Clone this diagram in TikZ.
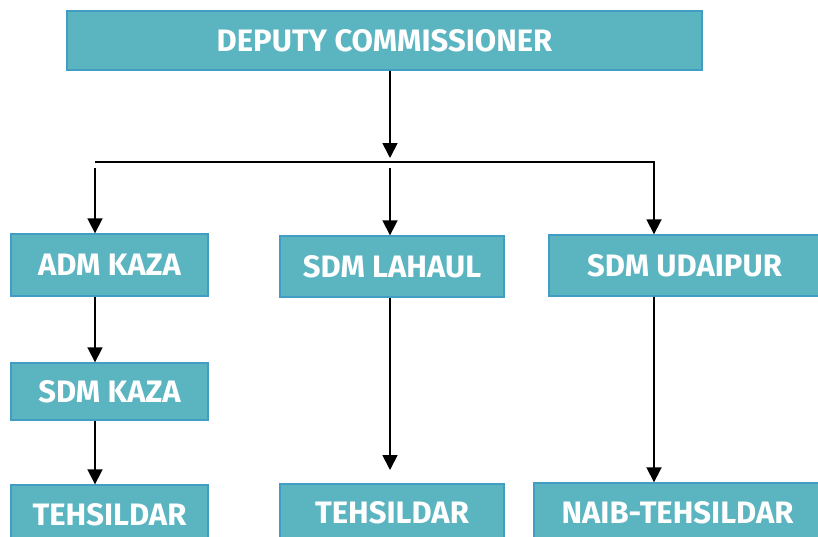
\documentclass[tikz,border=0pt]{standalone}
\usepackage{fontspec}
\setmainfont{Fira Sans}
\usetikzlibrary{arrows.meta}
\definecolor{boxfill}{RGB}{90,181,192}
\definecolor{boxline}{RGB}{66,157,196}
\begin{document}
\begin{tikzpicture}[x=1pt,y=-1pt,
  unit/.style={draw=boxline, fill=boxfill, line width=1.4pt, inner sep=0pt,
    text=white, font=\bfseries\fontsize{31}{36}\selectfont},
  link/.style={line width=1.8pt, -{Triangle[length=15pt,width=15pt]}},
  bus/.style={line width=1.8pt}]
\useasboundingbox (0,0) rectangle (818,536);
\clip (0,0) rectangle (818,536);

% offices
\node[unit, minimum width=635pt, minimum height=59pt] (dc) at (384.5,40.5) {DEPUTY COMMISSIONER};
\node[unit, minimum width=197pt, minimum height=62pt] (adm) at (109.5,265) {ADM KAZA};
\node[unit, minimum width=224pt, minimum height=61pt] (lahaul) at (392,266.5) {SDM LAHAUL};
\node[unit, minimum width=271pt, minimum height=61pt] (udaipur) at (684.5,265.5) {SDM UDAIPUR};
\node[unit, minimum width=197pt, minimum height=57pt] (sdmkaza) at (109.5,391.5) {SDM KAZA};
\node[unit, minimum width=197pt, minimum height=59pt] (tehA) at (109.5,514.5) {TEHSILDAR};
\node[unit, minimum width=224pt, minimum height=58pt] (tehB) at (392,513) {TEHSILDAR};
\node[unit, minimum width=287pt, minimum height=60pt] (naib) at (677.5,513) {NAIB-TEHSILDAR};

% reporting lines
\coordinate (dcdrop) at (390,0);
\coordinate (busTip) at (390,158);
\coordinate (busL) at (95,162);
\coordinate (busR) at (654,162);
\coordinate (dropL) at (95,168);
\coordinate (dropM) at (390,168);
\coordinate (lahaulTip) at (390,470);

\draw[link] (dc.south -| dcdrop) -- (busTip);
\draw[link] (busL) -- (busR) -- (udaipur.north -| busR);
\draw[link] (dropL) -- (adm.north -| dropL);
\draw[link] (dropM) -- (lahaul.north -| dropM);
\draw[link] (adm.south -| dropL) -- (sdmkaza.north -| dropL);
\draw[link] (sdmkaza.south -| dropL) -- (tehA.north -| dropL);
\draw[link] (lahaul.south -| dropM) -- (lahaulTip);
\draw[link] (udaipur.south -| busR) -- (naib.north -| busR);
\end{tikzpicture}
\end{document}
